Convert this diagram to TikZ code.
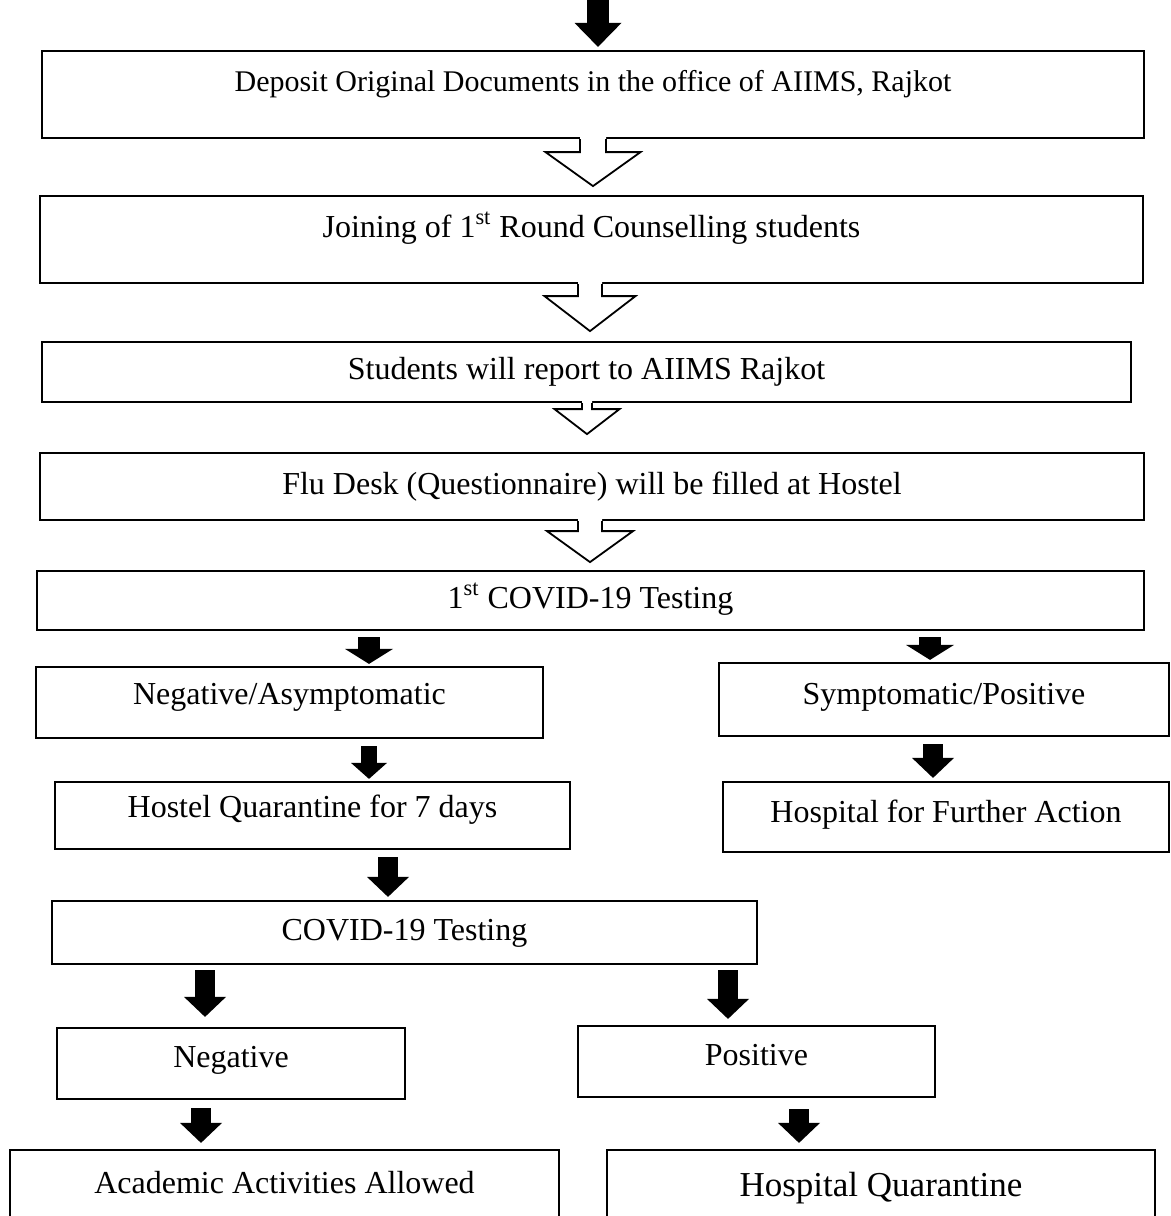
\documentclass[tikz,border=0pt]{standalone}
\usepackage{fontspec}
\setmainfont{Liberation Serif}
\usetikzlibrary{arrows.meta,calc}

% hollow down-arrow under a box: node, x, half shaft, half head, shaft length, head length
\newcommand{\hollowdn}[6]{%
  \coordinate (hd) at (#2,0 |- #1.south);
  \fill[white] ($(hd)+(-#3,-3)$) -- ++(0,{#5+3}) -- ++({#3-#4},0) -- ++(#4,#6)
    -- ++(#4,{-#6}) -- ++({#3-#4},0) -- ++(0,{-#5-3}) -- cycle;
  \draw[hol] ($(hd)+(-#3,0)$) -- ++(0,#5) -- ++({#3-#4},0) -- ++(#4,#6)
    -- ++(#4,{-#6}) -- ++({#3-#4},0) -- ++(0,{-#5});
}

\begin{document}
\begin{tikzpicture}[
  x=0.5pt, y=-0.5pt,
  font=\fontsize{16pt}{19pt}\selectfont,
  box/.style  = {draw, line width=1.1pt, inner sep=0pt, align=center,
                 text height=11pt, text depth=3.5pt, fill=white},
  lift/.style = {text depth=#1},
  hol/.style  = {line width=0.9pt, line join=miter},
  blk/.style  = {line width=10pt, -{Triangle[length=10pt, width=21pt, line width=0pt]},
                 shorten <=3.5pt, shorten >=1.5pt},
  blkw/.style = {line width=11pt, -{Triangle[length=7.5pt, width=24pt, line width=0pt]},
                 shorten <=3pt, shorten >=1pt},
  blks/.style = {line width=8pt, -{Triangle[length=8pt, width=18pt, line width=0pt]},
                 shorten <=3.5pt, shorten >=1pt},
]
\useasboundingbox (0,0) rectangle (1171,1216);

% ---------------- main column ------------------------------------------
\node[box, minimum width=551pt, minimum height=43.5pt, lift=14.3pt,
      font=\fontsize{15pt}{18pt}\selectfont] (dep) at (593,94.5)
  {Deposit Original Documents in the office of AIIMS, Rajkot};
\node[box, minimum width=551.5pt, minimum height=43.5pt, lift=13.5pt] (join) at (591.5,239.5)
  {Joining of 1\textsuperscript{st} Round Counselling students};
\node[box, minimum width=544.5pt, minimum height=30pt] (rep) at (586.5,372)
  {Students will report to AIIMS Rajkot};
\node[box, minimum width=552pt, minimum height=33.5pt] (flu) at (592,486.5)
  {Flu Desk (Questionnaire) will be filled at Hostel};
\node[box, minimum width=553.5pt, minimum height=29.5pt] (tst1) at (590.5,600.5)
  {1\textsuperscript{st} COVID-19 Testing};

% ---------------- first split ------------------------------------------
\node[box, minimum width=253.5pt, minimum height=35.5pt, lift=9pt] (neg1) at (289.5,702.5)
  {Negative/Asymptomatic};
\node[box, minimum width=225pt, minimum height=36.5pt, lift=6pt] (pos1) at (944,699.5)
  {Symptomatic/Positive};
\node[box, minimum width=257.5pt, minimum height=33.5pt, lift=9.5pt] (qtn) at (312.5,815.5)
  {Hostel Quarantine for 7 days};
\node[box, minimum width=223pt, minimum height=35pt, lift=5.5pt] (hosp) at (946,817)
  {Hospital for Further Action};

% ---------------- second test ------------------------------------------
\node[box, minimum width=352.5pt, minimum height=31.5pt] (tst2) at (404.5,932.5)
  {COVID-19 Testing};
\node[box, minimum width=174pt, minimum height=35.5pt, lift=7.5pt] (neg2) at (231,1063.5)
  {Negative};
\node[box, minimum width=178.5pt, minimum height=35.5pt, lift=7pt] (pos2) at (756.5,1061.5)
  {Positive};
\node[box, minimum width=274.5pt, minimum height=36pt] (acad) at (284.5,1186)
  {Academic Activities Allowed};
\node[box, minimum width=274pt, minimum height=36pt, lift=1pt,
      font=\fontsize{17.5pt}{21pt}\selectfont] (hq) at (881,1186)
  {Hospital Quarantine};

% ---------------- hollow arrows ----------------------------------------
\hollowdn{dep}{593}{13}{47.5}{13}{34}
\hollowdn{join}{590}{12}{45.5}{12}{35}
\hollowdn{rep}{587}{5}{32.5}{6}{25}
\hollowdn{flu}{590}{12}{43}{10}{31}

% ---------------- block arrows -----------------------------------------
\coordinate (entry) at (598,0);
\draw[blk, line width=11pt, -{Triangle[length=12pt, width=23.5pt, line width=0pt]},
      shorten <=0pt] (entry) -- (598,0 |- dep.north);
\draw[blkw] (369,0 |- tst1.south) -- (369,0 |- neg1.north);
\draw[blkw] (930,0 |- tst1.south) -- (930,0 |- pos1.north);
\draw[blks] (369,0 |- neg1.south) -- (369,0 |- qtn.north);
\draw[blk]  (933,0 |- pos1.south) -- (933,0 |- hosp.north);
\draw[blk]  (388,0 |- qtn.south) -- (388,0 |- tst2.north);
\draw[blk, shorten <=2.5pt, shorten >=5pt] (205,0 |- tst2.south) -- (205,0 |- neg2.north);
\draw[blk, shorten <=2.5pt, shorten >=3pt] (728,0 |- tst2.south) -- (728,0 |- pos2.north);
\draw[blk, shorten <=4pt, shorten >=3pt]   (201,0 |- neg2.south) -- (201,0 |- acad.north);
\draw[blk, shorten <=5.5pt, shorten >=3pt] (799,0 |- pos2.south) -- (799,0 |- hq.north);

\end{tikzpicture}
\end{document}
